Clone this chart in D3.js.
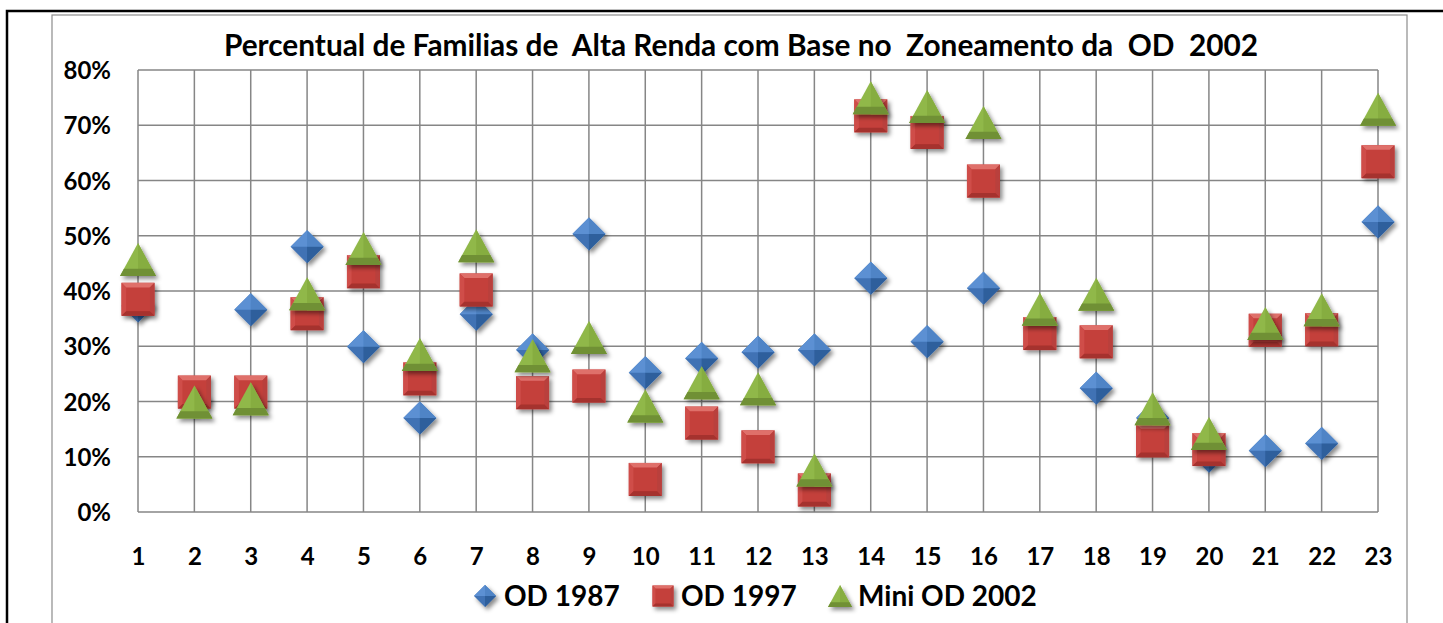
<!DOCTYPE html>
<html>
<head>
<meta charset="utf-8">
<script src="https://cdn.jsdelivr.net/npm/d3@7"></script>
<style>
  html, body { margin: 0; padding: 0; background: #fff; }
  svg { display: block; }
  text { font-family: Lato, "Open Sans", sans-serif; font-weight: bold; fill: #000; }
</style>
</head>
<body>
<svg id="chart" width="1443" height="623"></svg>
<script>
const titleText = "Percentual de Familias de  Alta Renda com Base no  Zoneamento da  OD  2002";
const categories = d3.range(1, 24);
const yTicks = [0, 0.1, 0.2, 0.3, 0.4, 0.5, 0.6, 0.7, 0.8];
const seriesNames = ["OD 1987", "OD 1997", "Mini OD 2002"];
const od1987 = [37.3, 20.3, 36.6, 48.0, 29.9, 17.0, 35.8, 29.3, 50.3, 25.2, 27.8, 28.9, 29.3, 42.3, 30.8, 40.5, 33.3, 22.4, 17.0, 10.1, 11.1, 12.4, 52.5];
const od1997 = [38.5, 21.7, 21.7, 35.9, 43.5, 24.1, 40.2, 21.6, 22.8, 5.9, 16.1, 11.8, 4.0, 71.7, 68.7, 59.9, 32.3, 30.8, 12.9, 11.3, 32.9, 33.0, 63.4];
const mini2002 = [45.7, 19.9, 20.5, 39.5, 47.7, 28.5, 48.2, 28.3, 31.6, 19.2, 23.4, 22.3, 7.6, 75.0, 73.4, 70.5, 36.7, 39.4, 18.7, 14.2, 34.1, 36.6, 72.9];

const svg = d3.select("#chart");
const defs = svg.append("defs");
const f = defs.append("filter").attr("id", "shadow").attr("x", "-50%").attr("y", "-50%").attr("width", "200%").attr("height", "200%");
f.append("feDropShadow").attr("dx", 2.5).attr("dy", 3).attr("stdDeviation", 2).attr("flood-color", "#000").attr("flood-opacity", 0.45);

// frames
svg.append("rect").attr("x", 7).attr("y", 11).attr("width", 1450).attr("height", 640)
  .attr("fill", "none").attr("stroke", "#000").attr("stroke-width", 2.5);
svg.append("rect").attr("x", 52).attr("y", 15).attr("width", 1355).attr("height", 640)
  .attr("fill", "#fff").attr("stroke", "#8c8c8c").attr("stroke-width", 1.2);

const x = d3.scaleLinear().domain([1, 23]).range([138, 1378]);
const y = d3.scaleLinear().domain([0, 0.8]).range([512, 70]);

// gridlines
const grid = svg.append("g").attr("stroke", "#868686").attr("stroke-width", 1.5);
grid.selectAll("line.h").data(yTicks).enter().append("line")
  .attr("x1", x(1)).attr("x2", x(23)).attr("y1", d => y(d)).attr("y2", d => y(d));
grid.selectAll("line.v").data(categories).enter().append("line")
  .attr("x1", d => x(d)).attr("x2", d => x(d)).attr("y1", y(0)).attr("y2", y(0.8));

// axes labels
const yAxis = d3.axisLeft(y).tickValues(yTicks).tickFormat(d3.format(".0%")).tickSize(0).tickPadding(27);
const gy = svg.append("g").attr("transform", `translate(${x(1)},0)`).call(yAxis);
gy.select(".domain").remove();
gy.selectAll("text").attr("font-size", 24).attr("font-family", "Lato").attr("font-weight", "bold").attr("fill", "#000").attr("dy", "0.36em");

const xAxis = d3.axisBottom(x).tickValues(categories).tickFormat(d3.format("d")).tickSize(0).tickPadding(36);
const gx = svg.append("g").attr("transform", `translate(0,${y(0)})`).call(xAxis);
gx.select(".domain").remove();
gx.selectAll("text").attr("font-size", 24).attr("font-family", "Lato").attr("font-weight", "bold").attr("fill", "#000").attr("dy", "0.71em");

// title
svg.append("text").attr("x", 741).attr("y", 56).attr("text-anchor", "middle")
  .attr("font-size", 29.8).style("white-space", "pre").text(titleText);

// marker drawers
function drawDiamond(g, cx, cy, r) {
  g.append("path").attr("d", `M${cx},${cy - r}L${cx + r},${cy}L${cx},${cy + r}L${cx - r},${cy}Z`).attr("fill", "#3f72b4");
  g.append("path").attr("d", `M${cx},${cy - r}L${cx + r},${cy}L${cx - r},${cy}Z`).attr("fill", "#5b90d3");
  g.append("path").attr("d", `M${cx},${cy - r}L${cx + r},${cy}L${cx},${cy}Z`).attr("fill", "#4f84c6");
  g.append("path").attr("d", `M${cx},${cy + r}L${cx + r},${cy}L${cx},${cy}Z`).attr("fill", "#2f5f9c");
}
function drawSquare(g, cx, cy, h) {
  const b = h * 0.28;
  const x0 = cx - h, x1 = cx + h, y0 = cy - h, y1 = cy + h;
  g.append("rect").attr("x", x0).attr("y", y0).attr("width", 2 * h).attr("height", 2 * h).attr("fill", "#c43f3b");
  g.append("path").attr("d", `M${x0},${y0}L${x1},${y0}L${x1 - b},${y0 + b}L${x0 + b},${y0 + b}Z`).attr("fill", "#df6f6b");
  g.append("path").attr("d", `M${x0},${y0}L${x0 + b},${y0 + b}L${x0 + b},${y1 - b}L${x0},${y1}Z`).attr("fill", "#cf4e4a");
  g.append("path").attr("d", `M${x1},${y0}L${x1 - b},${y0 + b}L${x1 - b},${y1 - b}L${x1},${y1}Z`).attr("fill", "#b9403c");
  g.append("path").attr("d", `M${x0},${y1}L${x0 + b},${y1 - b}L${x1 - b},${y1 - b}L${x1},${y1}Z`).attr("fill", "#a5302d");
}
function drawTriangle(g, cx, cy, w, h) {
  const top = cy - h / 2, bot = cy + h / 2;
  const band = h * 0.22;
  const yb = bot - band, hw = w / 2 * (yb - top) / h;
  g.append("path").attr("d", `M${cx},${top}L${cx + w / 2},${bot}L${cx - w / 2},${bot}Z`).attr("fill", "#90b84a");
  g.append("path").attr("d", `M${cx},${top}L${cx + w / 2},${bot}L${cx},${bot}Z`).attr("fill", "#86ad40");
  g.append("path").attr("d", `M${cx - hw},${yb}L${cx + hw},${yb}L${cx + w / 2},${bot}L${cx - w / 2},${bot}Z`).attr("fill", "#6f9034");
}

const series = [
  { name: seriesNames[0], values: od1987, draw: (g, cx, cy) => drawDiamond(g, cx, cy, 16.5) },
  { name: seriesNames[1], values: od1997, draw: (g, cx, cy) => drawSquare(g, cx, cy, 16.5) },
  { name: seriesNames[2], values: mini2002, draw: (g, cx, cy) => drawTriangle(g, cx, cy, 36, 33) }
];

series.forEach(s => {
  const gs = svg.append("g").attr("class", "series");
  s.values.forEach((v, i) => {
    const g = gs.append("g").attr("filter", "url(#shadow)");
    s.draw(g, x(categories[i]), y(v / 100));
  });
});

// legend
const legY = 596;
const leg = svg.append("g");
const lg1 = leg.append("g").attr("filter", "url(#shadow)"); drawDiamond(lg1, 485, legY, 11);
leg.append("text").attr("x", 504).attr("y", legY).attr("dy", "0.36em").attr("font-size", 28).text(seriesNames[0]);
const lg2 = leg.append("g").attr("filter", "url(#shadow)"); drawSquare(lg2, 663, legY, 10.5);
leg.append("text").attr("x", 681).attr("y", legY).attr("dy", "0.36em").attr("font-size", 28).text(seriesNames[1]);
const lg3 = leg.append("g").attr("filter", "url(#shadow)"); drawTriangle(lg3, 840, legY, 24, 22);
leg.append("text").attr("x", 858).attr("y", legY).attr("dy", "0.36em").attr("font-size", 28).text(seriesNames[2]);
</script>
</body>
</html>
